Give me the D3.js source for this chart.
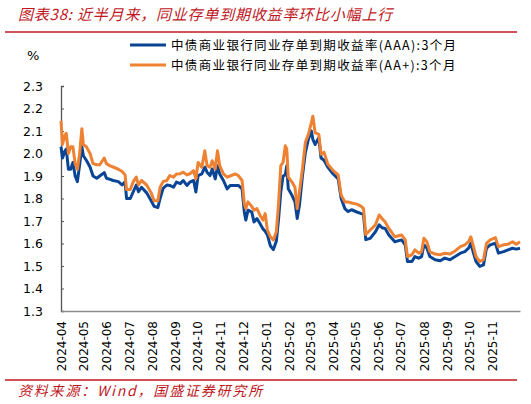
<!doctype html>
<html lang="zh">
<head>
<meta charset="UTF-8">
<title>同业存单到期收益率</title>
<script src="https://cdn.jsdelivr.net/npm/d3@7"></script>
<style>
    body { margin: 0; background: #fff; }
    svg { display: block; }
    .tick text { font-family: "DejaVu Sans", Verdana, sans-serif; fill: #000; }
</style>
</head>
<body>
<div id="chart"></div>
<script>
// chart data
const dates = [
    "2024-04-01","2024-04-03","2024-04-06","2024-04-08","2024-04-11","2024-04-14","2024-04-17","2024-04-20",
    "2024-04-23","2024-04-26","2024-04-29","2024-05-01","2024-05-05","2024-05-10","2024-05-14","2024-05-19",
    "2024-05-23","2024-05-29","2024-06-01","2024-06-06","2024-06-10","2024-06-17","2024-06-22","2024-06-26",
    "2024-06-28","2024-07-03","2024-07-07","2024-07-11","2024-07-14","2024-07-18","2024-07-25","2024-07-31",
    "2024-08-04","2024-08-09","2024-08-12","2024-08-16","2024-08-21","2024-08-25","2024-08-30","2024-09-03",
    "2024-09-08","2024-09-12","2024-09-17","2024-09-21","2024-09-26","2024-09-29","2024-10-02","2024-10-07",
    "2024-10-11","2024-10-14","2024-10-18","2024-10-21","2024-10-25","2024-10-28","2024-10-31","2024-11-05",
    "2024-11-10","2024-11-14","2024-11-21","2024-11-25","2024-11-30","2024-12-03","2024-12-05","2024-12-08",
    "2024-12-13","2024-12-16","2024-12-20","2024-12-24","2024-12-28","2024-12-31","2025-01-03","2025-01-07",
    "2025-01-11","2025-01-15","2025-01-18","2025-01-21","2025-01-24","2025-01-27","2025-01-29","2025-01-31",
    "2025-02-05","2025-02-09","2025-02-12","2025-02-15","2025-02-19","2025-02-23","2025-02-27","2025-03-03",
    "2025-03-05","2025-03-08","2025-03-13","2025-03-16","2025-03-20","2025-03-25","2025-04-01","2025-04-08",
    "2025-04-12","2025-04-17","2025-04-21","2025-04-26","2025-05-03","2025-05-09","2025-05-12","2025-05-15",
    "2025-05-21","2025-05-28","2025-06-02","2025-06-06","2025-06-10","2025-06-15","2025-06-23","2025-07-02",
    "2025-07-07","2025-07-10","2025-07-16","2025-07-20","2025-07-25","2025-07-29","2025-08-01","2025-08-05",
    "2025-08-09","2025-08-16","2025-08-23","2025-08-29","2025-09-05","2025-09-12","2025-09-19","2025-09-25",
    "2025-09-30","2025-10-03","2025-10-06","2025-10-10","2025-10-15","2025-10-20","2025-10-24","2025-10-29",
    "2025-11-05","2025-11-09","2025-11-16","2025-11-22","2025-11-28","2025-12-03","2025-12-08"
];

const aaa = [
    2.03,1.98,2.01,2.02,1.93,1.93,1.96,1.90,
    1.875,1.95,2.03,1.99,1.97,1.94,1.90,1.89,
    1.90,1.915,1.89,1.885,1.88,1.875,1.86,1.875,
    1.80,1.80,1.83,1.86,1.83,1.85,1.825,1.79,
    1.765,1.76,1.80,1.845,1.86,1.858,1.85,1.873,
    1.866,1.88,1.858,1.873,1.88,1.829,1.902,1.909,
    1.939,1.917,1.902,1.931,1.887,1.946,1.909,1.88,
    1.843,1.858,1.858,1.858,1.843,1.74,1.704,1.748,
    1.74,1.696,1.711,1.689,1.665,1.655,1.638,1.59,
    1.573,1.61,1.71,1.83,1.90,1.905,1.946,1.843,
    1.814,1.785,1.711,1.77,1.90,2.005,2.063,2.10,
    2.063,2.04,2.07,1.98,1.97,1.94,1.91,1.887,
    1.80,1.755,1.742,1.75,1.74,1.733,1.73,1.617,
    1.623,1.652,1.683,1.67,1.667,1.638,1.608,1.616,
    1.594,1.52,1.52,1.542,1.535,1.542,1.594,1.58,
    1.542,1.528,1.523,1.535,1.528,1.542,1.557,1.564,
    1.579,1.601,1.564,1.52,1.498,1.505,1.579,1.594,
    1.601,1.557,1.564,1.572,1.579,1.575,1.579
];

const aaPlus = [
    2.145,2.04,2.08,2.09,2.00,2.03,2.03,1.955,
    1.93,2.00,2.11,2.04,2.03,2.00,1.955,1.95,
    1.95,1.98,1.955,1.945,1.94,1.93,1.92,1.905,
    1.84,1.84,1.875,1.895,1.86,1.88,1.86,1.825,
    1.79,1.79,1.85,1.875,1.88,1.902,1.895,1.909,
    1.91,1.917,1.905,1.91,1.924,1.887,1.96,1.939,
    2.012,1.946,1.939,1.968,1.931,2.012,1.946,1.909,
    1.895,1.90,1.909,1.902,1.88,1.777,1.755,1.785,
    1.765,1.748,1.755,1.726,1.704,1.733,1.66,1.63,
    1.616,1.652,1.78,1.946,1.96,2.034,2.02,1.895,
    1.873,1.85,1.755,1.83,1.93,2.05,2.085,2.137,
    2.166,2.093,2.085,1.997,2.005,1.953,1.925,1.905,
    1.815,1.785,1.785,1.78,1.775,1.765,1.755,1.64,
    1.66,1.683,1.727,1.71,1.696,1.667,1.63,1.638,
    1.616,1.542,1.55,1.572,1.557,1.564,1.623,1.608,
    1.564,1.553,1.55,1.557,1.553,1.567,1.586,1.594,
    1.608,1.63,1.594,1.542,1.52,1.528,1.601,1.616,
    1.626,1.586,1.594,1.597,1.608,1.597,1.608
];

const monthTicks = [
    "2024-04","2024-05","2024-06","2024-07","2024-08","2024-09","2024-10",
    "2024-11","2024-12","2025-01","2025-02","2025-03","2025-04","2025-05",
    "2025-06","2025-07","2025-08","2025-09","2025-10","2025-11"
];
const yTicks = [1.3, 1.4, 1.5, 1.6, 1.7, 1.8, 1.9, 2.0, 2.1, 2.2, 2.3];

const seriesNames = [
    "中债商业银行同业存单到期收益率(AAA):3个月",
    "中债商业银行同业存单到期收益率(AA+):3个月"
];
const seriesColors = ["#0a4595", "#ee8232"];

const W = 531, H = 404;
const red = "#c0171e";

const parse = d3.timeParse("%Y-%m-%d");
const parseMonth = d3.timeParse("%Y-%m");

const svg = d3.select("#chart").append("svg")
    .attr("width", W)
    .attr("height", H);

// title + red rules
svg.append("text")
    .attr("x", 18).attr("y", 20)
    .attr("fill", red)
    .attr("font-family", "'Noto Sans CJK SC', sans-serif")
    .attr("font-style", "italic")
    .attr("font-size", 15)
    .attr("letter-spacing", 0.8)
    .text("图表38:  近半月来，同业存单到期收益率环比小幅上行");

svg.append("line")
    .attr("x1", 5).attr("x2", 517).attr("y1", 32).attr("y2", 32)
    .attr("stroke", red).attr("stroke-width", 1.5);
svg.append("line")
    .attr("x1", 5).attr("x2", 517).attr("y1", 380).attr("y2", 380)
    .attr("stroke", red).attr("stroke-width", 1.5);

svg.append("text")
    .attr("x", 18).attr("y", 396)
    .attr("fill", red)
    .attr("font-family", "'Noto Sans CJK SC', sans-serif")
    .attr("font-style", "italic")
    .attr("font-size", 14)
    .attr("letter-spacing", 1.8)
    .text("资料来源：Wind，国盛证券研究所");

// scales
const x = d3.scaleTime()
    .domain([parse("2024-04-01"), parse("2025-12-08")])
    .range([61, 520]);

const y = d3.scaleLinear()
    .domain([1.3, 2.3])
    .range([311, 86]);

// y axis
const yAxis = svg.append("g")
    .attr("transform", "translate(61,0)")
    .call(d3.axisLeft(y).tickValues(yTicks).tickFormat(d3.format(".1f")).tickSize(-3).tickPadding(18));
yAxis.select(".domain").attr("stroke", "#555").attr("stroke-width", 1.3);
yAxis.selectAll(".tick line").attr("stroke", "#555");
yAxis.selectAll(".tick text").attr("font-size", 12.5);

// x axis
const xAxis = svg.append("g")
    .attr("transform", "translate(0,311)")
    .call(d3.axisBottom(x).tickValues(monthTicks.map(parseMonth)).tickFormat(d3.timeFormat("%Y-%m")).tickSize(0));
xAxis.select(".domain").attr("stroke", "#8c8c8c").attr("stroke-width", 1.6);
xAxis.selectAll(".tick text")
    .attr("font-size", 12)
    .attr("transform", "rotate(-90)")
    .attr("text-anchor", "end")
    .attr("x", -10)
    .attr("y", 0)
    .attr("dy", "0.35em");

svg.append("text")
    .attr("x", 27).attr("y", 60)
    .attr("font-family", "'DejaVu Sans', sans-serif")
    .attr("font-size", 13)
    .text("%");

// lines
const pts = dates.map(parse);
const line = d3.line()
    .x((d, i) => x(pts[i]))
    .y(d => y(d));

[aaa, aaPlus].forEach((vals, k) => {
    svg.append("path")
        .datum(vals)
        .attr("fill", "none")
        .attr("stroke", seriesColors[k])
        .attr("stroke-width", 3)
        .attr("stroke-linejoin", "round")
        .attr("d", line);
});

// legend
const legend = svg.append("g");
seriesNames.forEach((name, k) => {
    const ly = 45 + k * 20;
    legend.append("line")
        .attr("x1", 130).attr("x2", 166).attr("y1", ly).attr("y2", ly)
        .attr("stroke", seriesColors[k]).attr("stroke-width", 3);
    legend.append("text")
        .attr("x", 171).attr("y", ly + 4.5)
        .attr("font-family", "'Noto Sans CJK SC', sans-serif")
        .attr("font-size", 12.5)
        .attr("letter-spacing", 1.35)
        .text(name);
});
</script>
</body>
</html>
